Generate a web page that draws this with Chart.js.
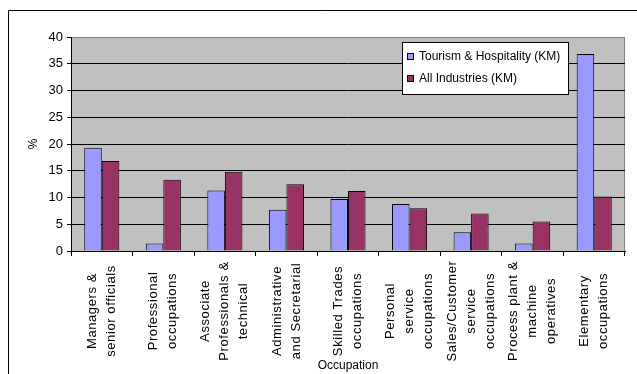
<!DOCTYPE html>
<html>
<head>
<meta charset="utf-8">
<script src="https://cdn.jsdelivr.net/npm/chart.js@4/dist/chart.umd.min.js"></script>
<style>
  html, body { margin: 0; padding: 0; background: #fff; }
  canvas { display: block; }
</style>
</head>
<body>
<canvas id="chart" width="637" height="374"></canvas>
<script>
// Occupation categories (each entry is one multi-line tick label)
const occupations = [
  ["Managers &", "senior officials"],
  ["Professional", "occupations"],
  ["Associate", "Professionals &", "technical"],
  ["Administrative", "and Secretarial"],
  ["Skilled Trades", "occupations"],
  ["Personal", "service", "occupations"],
  ["Sales/Customer", "service", "occupations"],
  ["Process plant &", "machine", "operatives"],
  ["Elementary", "occupations"]
];

// Share of employment by occupation, %
const tourismHospitality = [19.3, 1.4, 11.3, 7.7, 9.7, 8.8, 3.5, 1.4, 36.8];
const allIndustries      = [16.8, 13.3, 14.8, 12.5, 11.2, 8.0, 7.0, 5.5, 10.2];

const seriesNames = ["Tourism & Hospitality (KM)", "All Industries (KM)"];
const yTicks = [0, 5, 10, 15, 20, 25, 30, 35, 40];

const FONT = "Arial, 'Liberation Sans', sans-serif";
const BLUE = "#9999FF";
const MAROON = "#993366";

// Frame, plot background, centred rotated category labels and the legend box
const decorations = {
  id: "decorations",
  beforeDraw(chart) {
    const { ctx, chartArea: a } = chart;
    ctx.save();
    ctx.fillStyle = "#ffffff";
    ctx.fillRect(0, 0, chart.width, chart.height);
    // outer chart frame
    ctx.strokeStyle = "#000";
    ctx.lineWidth = 1;
    ctx.beginPath();
    ctx.moveTo(8.5, chart.height);
    ctx.lineTo(8.5, 10.5);
    ctx.lineTo(chart.width, 10.5);
    ctx.stroke();
    // plot area
    ctx.fillStyle = "#C0C0C0";
    ctx.fillRect(a.left, a.top, a.right - a.left, a.bottom - a.top);
    ctx.strokeStyle = "#808080";
    ctx.beginPath();
    ctx.moveTo(a.left, a.top + 0.5);
    ctx.lineTo(a.right - 0.5, a.top + 0.5);
    ctx.lineTo(a.right - 0.5, a.bottom);
    ctx.stroke();
    ctx.restore();
  },
  afterDraw(chart) {
    const { ctx } = chart;
    const xScale = chart.scales.x;
    ctx.save();
    // category labels, read bottom to top, each line centred
    ctx.fillStyle = "#000";
    ctx.font = "13px " + FONT;
    ctx.textAlign = "center";
    ctx.textBaseline = "middle";
    if ("letterSpacing" in ctx) ctx.letterSpacing = "0.6px";
    const lineGap = 19;
    const midY = 311;
    occupations.forEach((lines, i) => {
      const cx = xScale.getPixelForValue(i);
      lines.forEach((line, j) => {
        const lx = cx + (j - (lines.length - 1) / 2) * lineGap;
        ctx.save();
        ctx.translate(lx, midY);
        ctx.rotate(-Math.PI / 2);
        ctx.fillText(line, 0, 0);
        ctx.restore();
      });
    });
    if ("letterSpacing" in ctx) ctx.letterSpacing = "0px";

    // legend
    const box = { x: 402.5, y: 42.5, w: 166, h: 52 };
    ctx.fillStyle = "#fff";
    ctx.fillRect(box.x, box.y, box.w, box.h);
    ctx.strokeStyle = "#000";
    ctx.lineWidth = 1;
    ctx.strokeRect(box.x, box.y, box.w, box.h);
    ctx.font = "12px " + FONT;
    ctx.textAlign = "left";
    ctx.textBaseline = "middle";
    chart.data.datasets.forEach((ds, k) => {
      const rowY = 57 + k * 22;
      ctx.fillStyle = ds.backgroundColor;
      ctx.fillRect(407.5, rowY - 3.5, 6, 6);
      ctx.strokeStyle = "#000";
      ctx.strokeRect(407.5, rowY - 3.5, 6, 6);
      ctx.fillStyle = "#000";
      ctx.fillText(ds.label, 419, rowY);
    });
    ctx.restore();
  }
};

new Chart(document.getElementById("chart"), {
  type: "bar",
  data: {
    labels: occupations,
    datasets: [
      {
        label: seriesNames[0],
        data: tourismHospitality,
        backgroundColor: BLUE,
        borderColor: "#000",
        borderWidth: 1,
        categoryPercentage: 0.57,
        barPercentage: 1.0
      },
      {
        label: seriesNames[1],
        data: allIndustries,
        backgroundColor: MAROON,
        borderColor: "#000",
        borderWidth: 1,
        categoryPercentage: 0.57,
        barPercentage: 1.0
      }
    ]
  },
  options: {
    responsive: false,
    animation: false,
    devicePixelRatio: 1,
    layout: { padding: { left: 0, top: 37, right: 12, bottom: 0 } },
    plugins: {
      legend: { display: false },
      tooltip: { enabled: false }
    },
    scales: {
      x: {
        afterFit(scale) { scale.height = 123; },
        ticks: { display: false },
        grid: {
          drawOnChartArea: false,
          drawTicks: true,
          tickLength: 5,
          color: "#000",
          tickColor: "#000",
          offset: true
        },
        border: { display: true, color: "#000", width: 1 },
        title: {
          display: true,
          text: "Occupation",
          color: "#000",
          font: { family: FONT, size: 12 },
          padding: { top: 0, bottom: 1 }
        }
      },
      y: {
        min: 0,
        max: 40,
        afterFit(scale) { scale.width = 71; },
        afterBuildTicks(scale) { scale.ticks = yTicks.map(v => ({ value: v })); },
        ticks: {
          color: "#000",
          font: { family: FONT, size: 13 },
          padding: 4
        },
        grid: {
          color: c => (c.tick && c.tick.value === 40 ? "#808080" : "#000"),
          tickColor: "#000",
          tickLength: 4,
          lineWidth: 1
        },
        border: { display: true, color: "#000", width: 1 },
        title: {
          display: true,
          text: "%",
          color: "#000",
          font: { family: FONT, size: 12 },
          padding: { top: 26, bottom: 0 }
        }
      }
    }
  },
  plugins: [decorations]
});
</script>
</body>
</html>
